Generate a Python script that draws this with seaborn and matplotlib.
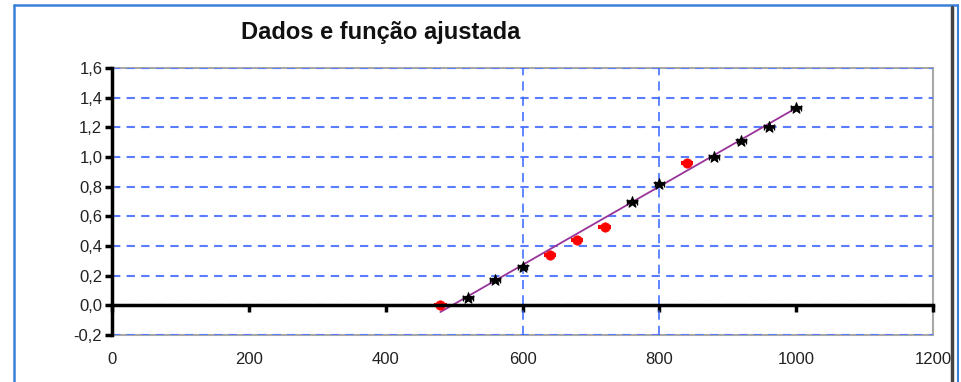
import numpy as np
import pandas as pd
import matplotlib
matplotlib.use("Agg")
import matplotlib.pyplot as plt
import seaborn as sns
from matplotlib.lines import Line2D
from matplotlib.patches import Rectangle
from matplotlib.ticker import FuncFormatter

# ---- data ----
black_x = [520, 560, 600, 760, 800, 880, 920, 960, 1000]
black_y = [0.05, 0.17, 0.26, 0.70, 0.82, 1.00, 1.11, 1.20, 1.33]
red_x = [480, 640, 680, 720, 840]
red_y = [0.00, 0.34, 0.44, 0.53, 0.96]
fit_x = [480, 1000]
fit_y = [-0.045, 1.33]
x_ticks = [0, 200, 400, 600, 800, 1000, 1200]
y_ticks = [-0.2, 0.0, 0.2, 0.4, 0.6, 0.8, 1.0, 1.2, 1.4, 1.6]
vlines_x = [600, 800]
title = "Dados e função ajustada"

sns.set_theme(style="white")
plt.rcParams['font.family'] = ['Liberation Sans', 'DejaVu Sans']
tick_font = ['Liberation Sans Narrow', 'Liberation Sans', 'DejaVu Sans']

fig = plt.figure(figsize=(9.61, 3.82), dpi=100)
ax = fig.add_axes([112/961, 1-335/382, (933-112)/961, (335-68)/382])

grid_c = '#5a7dff'
for yv in y_ticks:
    ax.axhline(yv, color=grid_c, lw=1.5, ls=(0, (4, 3)), zorder=1)
for xv in vlines_x:
    ax.axvline(xv, color='#3366ff', lw=1.1, ls=(0, (6, 4)), zorder=1)

df_fit = pd.DataFrame({'x': fit_x, 'y': fit_y})
sns.lineplot(data=df_fit, x='x', y='y', ax=ax, color='#993399', lw=1.3, zorder=3)

ax.errorbar(black_x, black_y, xerr=7, yerr=0.012, fmt='none', ecolor='black',
            elinewidth=1.8, capsize=2.5, zorder=4)
ax.errorbar(red_x, red_y, xerr=9, fmt='none', ecolor='red', elinewidth=3,
            capsize=0, zorder=4)
df_b = pd.DataFrame({'x': black_x, 'y': black_y})
df_r = pd.DataFrame({'x': red_x, 'y': red_y})
sns.scatterplot(data=df_b, x='x', y='y', ax=ax, marker='*', s=70, color='black',
                edgecolor='black', linewidth=0.8, zorder=5)
sns.scatterplot(data=df_r, x='x', y='y', ax=ax, marker='o', s=45, color='red',
                edgecolor='red', zorder=5)

ax.set_xlim(0, 1200)
ax.set_ylim(-0.2, 1.6)
ax.set_xlabel('')
ax.set_ylabel('')

# spines
for s in ['top', 'right']:
    ax.spines[s].set_visible(False)
ax.add_patch(Rectangle((0, 0), 1, 1, transform=ax.transAxes, fill=False,
                       edgecolor='#a8a8a8', lw=1.5, zorder=0.5, clip_on=False))
ax.spines['left'].set_color('black')
ax.spines['left'].set_linewidth(2.5)
ax.spines['left'].set_zorder(6)
ax.spines['bottom'].set_position(('data', 0))
ax.spines['bottom'].set_color('black')
ax.spines['bottom'].set_linewidth(2.5)
ax.spines['bottom'].set_zorder(6)

ax.set_yticks(y_ticks)
ax.yaxis.set_major_formatter(FuncFormatter(lambda v, p: f"{v:.1f}".replace('.', ',').replace('-0,0', '0,0')))
ax.tick_params(axis='y', direction='out', length=5, width=2.5, color='black',
               left=True, labelsize=12, pad=2, labelcolor='#222222')
for lab in ax.get_yticklabels():
    lab.set_family(tick_font)
ax.set_xticks(x_ticks)
ax.tick_params(axis='x', direction='out', length=5, width=2.5, color='black',
               bottom=True, labelbottom=False)

sec = ax.secondary_xaxis('bottom')
sec.set_xticks(x_ticks)
sec.set_xticklabels([str(v) for v in x_ticks])
sec.tick_params(length=0, labelsize=12, pad=12, labelcolor='#222222')
for lab in sec.get_xticklabels():
    lab.set_family(tick_font)
sec.spines['bottom'].set_visible(False)

fig.text(381/961, 1-33/382, title, ha='center', va='center', fontsize=17,
         fontweight='bold', color='#111111')

# outer frame
blue = '#3a80d8'
fig.add_artist(Line2D([14/961, 14/961], [0, 1-5/382], color=blue, lw=1.8, transform=fig.transFigure))
fig.add_artist(Line2D([14/961, 957/961], [1-5/382, 1-5/382], color=blue, lw=1.8, transform=fig.transFigure))
fig.add_artist(Line2D([952/961, 952/961], [0, 1-7/382], color='#444444', lw=2.5, transform=fig.transFigure))
fig.add_artist(Line2D([958/961, 958/961], [0, 1-5/382], color=blue, lw=1.5, transform=fig.transFigure))

fig.savefig('out.png', dpi=100)
